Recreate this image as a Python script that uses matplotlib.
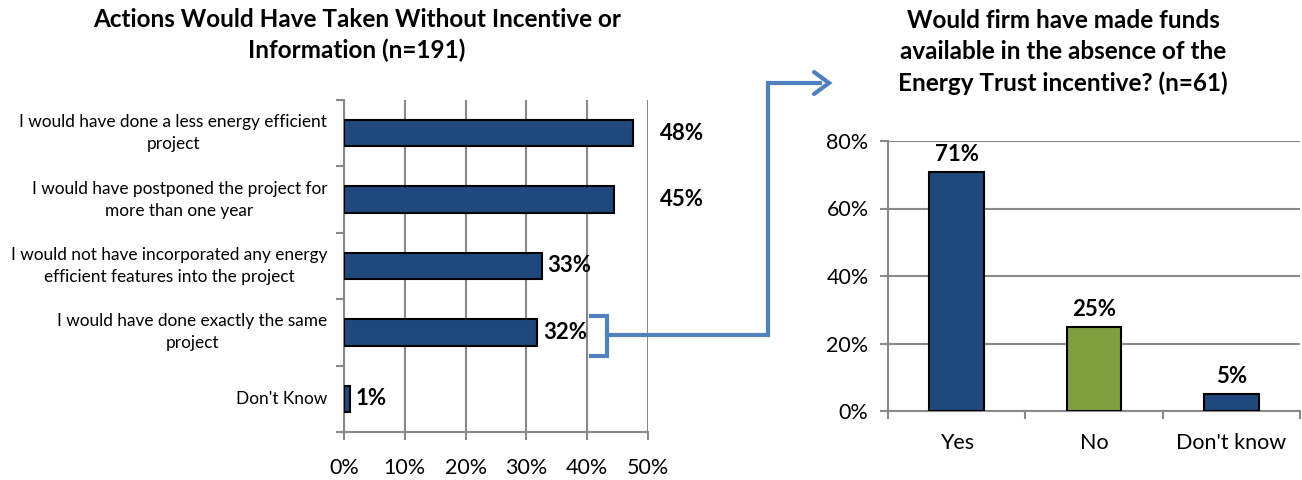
import matplotlib.pyplot as plt
from matplotlib.lines import Line2D

plt.rcParams['font.family'] = ['Lato', 'DejaVu Sans']

actions = [
    "I would have done a less energy efficient\nproject",
    "I would have postponed the project for\nmore than one year",
    "I would not have incorporated any energy\nefficient features into the project",
    "I would have done exactly the same\nproject",
    "Don't Know",
]
action_pct = [47.5, 44.4, 32.5, 31.8, 1.0]
action_labels = ["48%", "45%", "33%", "32%", "1%"]

funds_cats = ["Yes", "No", "Don't know"]
funds_pct = [70.8, 24.9, 5.0]
funds_labels = ["71%", "25%", "5%"]

navy = '#1F497D'
green = '#7F9F3F'
grid_c = '#898989'
arrow_c = '#4F81BD'

W, H = 1302, 480
fig = plt.figure(figsize=(W / 100, H / 100), dpi=100)


def px_axes(x0, y0, x1, y1):
    return fig.add_axes([x0 / W, 1 - y1 / H, (x1 - x0) / W, (y1 - y0) / H])


def style_axes(ax):
    for s in ['top', 'right']:
        ax.spines[s].set_visible(False)
    for s in ['left', 'bottom']:
        ax.spines[s].set_color(grid_c)
        ax.spines[s].set_linewidth(1.5)
    ax.tick_params(colors=grid_c, width=1.5, length=6, labelcolor='black')


# ---- left chart
ax1 = px_axes(344, 100, 648, 432)
n = len(actions)
ypos = list(range(n))
ax1.barh(ypos, action_pct, height=0.4, color=navy, edgecolor='black', linewidth=1.5, zorder=3)
ax1.set_ylim(n - 0.5, -0.5)
ax1.set_xlim(0, 50)
ax1.set_xticks(range(0, 51, 10))
ax1.set_xticklabels([f"{v}%" for v in range(0, 51, 10)], fontsize=15.5)
ax1.set_yticks([i - 0.5 for i in range(n + 1)])
ax1.set_yticklabels([])
ax1.grid(axis='x', color=grid_c, linewidth=1.5, zorder=0)
style_axes(ax1)
ax1.tick_params(axis='x', pad=13)
for i, t in enumerate(actions):
    ax1.text(-0.055, i, t, transform=ax1.get_yaxis_transform(), ha='right', va='center',
             multialignment='center', fontsize=12.4, linespacing=1.45)
# labels: top two sit outside the 50% line
for i, (v, lab) in enumerate(zip(action_pct, action_labels)):
    if v > 40:
        ax1.annotate(lab, (52, i), xytext=(0, 0), textcoords='offset points',
                     ha='left', va='center', fontsize=16, fontweight='bold', annotation_clip=False)
    else:
        ax1.annotate(lab, (v, i), xytext=(4, 0), textcoords='offset points',
                     ha='left', va='center', fontsize=16, fontweight='bold')
fig.text(357 / W, 1 - 35 / H, "Actions Would Have Taken Without Incentive or\nInformation (n=191)",
         ha='center', va='center', fontsize=17.5, fontweight='bold', linespacing=1.35)

# ---- right chart
ax2 = px_axes(888, 141, 1300, 411)
xpos = list(range(len(funds_cats)))
colors = [navy, green, navy]
ax2.bar(xpos, funds_pct, width=0.4, color=colors, edgecolor='black', linewidth=1.5, zorder=3)
ax2.set_xlim(-0.5, len(funds_cats) - 0.5)
ax2.set_ylim(0, 80)
ax2.set_yticks(range(0, 81, 20))
ax2.set_yticklabels([f"{v}%" for v in range(0, 81, 20)], fontsize=15.5)
ax2.set_xticks([i - 0.5 for i in range(len(funds_cats) + 1)])
ax2.set_xticklabels([])
ax2.grid(axis='y', color=grid_c, linewidth=1.5, zorder=0)
style_axes(ax2)
ax2.tick_params(axis='y', pad=8)
for i, c in enumerate(funds_cats):
    ax2.text(i, -0.08, c, transform=ax2.get_xaxis_transform(), ha='center', va='top', fontsize=15.5)
for i, (v, lab) in enumerate(zip(funds_pct, funds_labels)):
    ax2.annotate(lab, (i, v), xytext=(0, 5), textcoords='offset points',
                 ha='center', va='bottom', fontsize=16, fontweight='bold')
fig.text(1063 / W, 1 - 52 / H,
         "Would firm have made funds\navailable in the absence of the\nEnergy Trust incentive? (n=61)",
         ha='center', va='center', fontsize=17.5, fontweight='bold', linespacing=1.4)


# ---- bracket + connector arrow (figure pixel coords)
def fx(x):
    return x / W


def fy(y):
    return 1 - y / H


lw = 3
fig.add_artist(Line2D([fx(591), fx(607), fx(607), fx(591)], [fy(316), fy(316), fy(356), fy(356)],
                      color=arrow_c, lw=lw, solid_joinstyle='miter'))
fig.add_artist(Line2D([fx(607), fx(768), fx(768), fx(820)], [fy(335), fy(335), fy(83), fy(83)],
                      color=arrow_c, lw=lw, solid_joinstyle='miter'))
fig.add_artist(Line2D([fx(814), fx(829), fx(814)], [fy(72), fy(83), fy(94)],
                      color=arrow_c, lw=lw, solid_joinstyle='miter', solid_capstyle='round'))

fig.savefig('out.png', dpi=100)
